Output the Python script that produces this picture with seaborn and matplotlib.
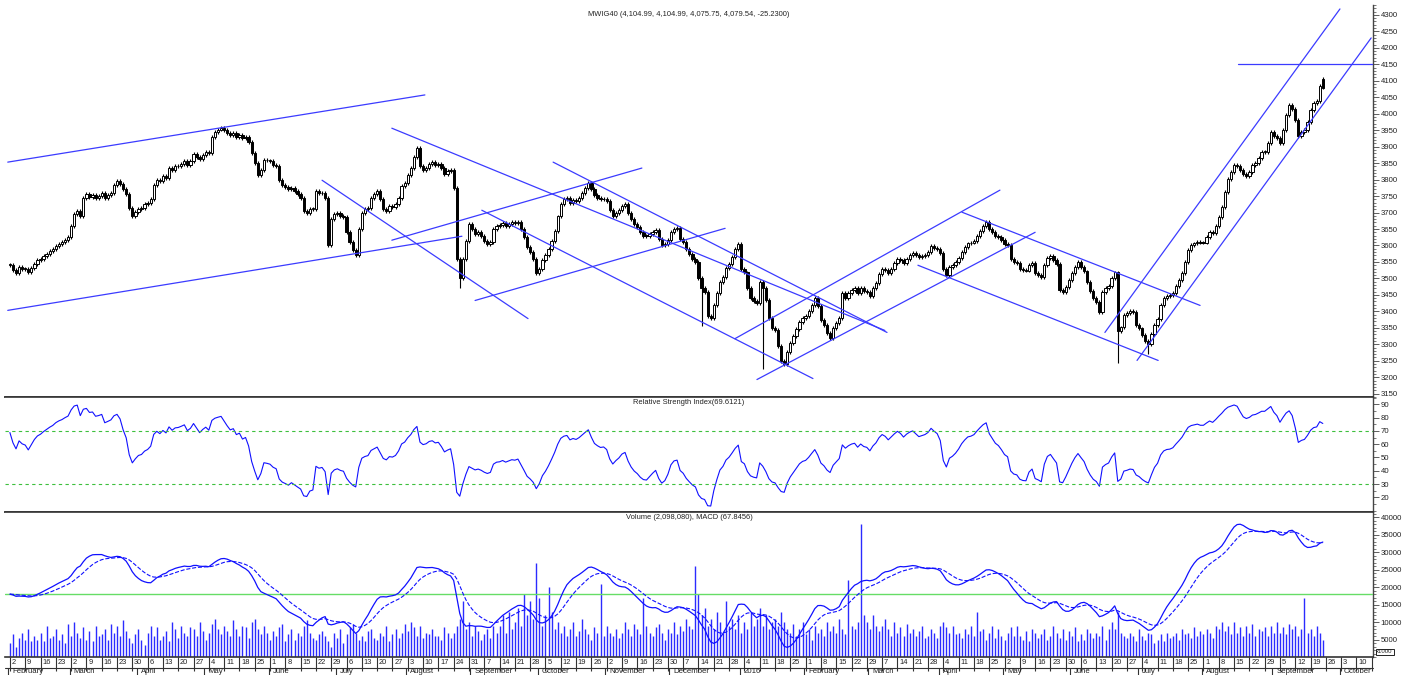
import numpy as np
import pandas as pd
import seaborn as sns
import matplotlib.pyplot as plt
import matplotlib.transforms as mtransforms
from matplotlib.ticker import MultipleLocator

sns.set_theme(style="white")
plt.rcParams['font.family'] = ['Liberation Sans', 'DejaVu Sans']

# daily closes of the index, one row per week (Mon..Fri), Feb 2015 - Sep 2016
closes = [
    3540, 3525, 3515, 3535, 3530,
    3528, 3520, 3532, 3545, 3555,
    3560, 3568, 3575, 3582, 3588,
    3598, 3605, 3610, 3618, 3625,
    3660, 3695, 3705, 3690, 3745,
    3755, 3748, 3752, 3745, 3750,
    3758, 3745, 3752, 3760, 3785,
    3795, 3788, 3770, 3755, 3715,
    3690, 3702, 3712, 3715, 3725,
    3730, 3740, 3785, 3800, 3795,
    3810, 3805, 3835, 3828, 3840,
    3842, 3848, 3855, 3845, 3855,
    3878, 3870, 3862, 3875, 3885,
    3880, 3930, 3945, 3952, 3958,
    3950, 3942, 3935, 3940, 3930,
    3935, 3925, 3930, 3915, 3880,
    3850, 3815, 3830, 3860, 3858,
    3855, 3845, 3840, 3800, 3785,
    3778, 3770, 3775, 3765, 3755,
    3745, 3705, 3700, 3710, 3712,
    3765, 3758, 3760, 3745, 3600,
    3680, 3695, 3700, 3690, 3685,
    3640, 3610, 3585, 3570, 3650,
    3700, 3710, 3715, 3745, 3755,
    3765, 3740, 3712, 3705, 3720,
    3718, 3725, 3745, 3780, 3790,
    3815, 3835, 3870, 3895, 3840,
    3830, 3835, 3848, 3852, 3845,
    3848, 3835, 3818, 3825, 3830,
    3775, 3560, 3500, 3560, 3615,
    3665, 3650, 3635, 3640, 3630,
    3615, 3605, 3610, 3650, 3660,
    3662, 3668, 3660, 3665, 3670,
    3668, 3672, 3650, 3625, 3595,
    3580, 3560, 3515, 3530, 3555,
    3570, 3590, 3615, 3645, 3688,
    3725, 3740, 3745, 3730, 3738,
    3735, 3745, 3760, 3775, 3790,
    3770, 3752, 3745, 3740, 3742,
    3735, 3707, 3690, 3700, 3708,
    3720, 3725, 3700, 3680, 3665,
    3655, 3640, 3630, 3628, 3635,
    3642, 3648, 3620, 3600, 3605,
    3618, 3640, 3650, 3652, 3620,
    3610, 3590, 3575, 3560, 3550,
    3500, 3470, 3460, 3385, 3380,
    3420, 3455, 3490, 3505, 3532,
    3545, 3565, 3588, 3605, 3530,
    3518, 3470, 3440, 3430, 3425,
    3490, 3470, 3435, 3380, 3350,
    3342, 3295, 3250, 3240, 3278,
    3305, 3325, 3345, 3368, 3380,
    3385, 3400, 3420, 3440, 3415,
    3375, 3360, 3335, 3320, 3350,
    3365, 3380, 3455, 3440, 3455,
    3465, 3470, 3455, 3472, 3463,
    3460, 3448, 3470, 3485, 3512,
    3530, 3525, 3515, 3530, 3546,
    3560, 3555, 3546, 3560, 3570,
    3576, 3570, 3564, 3568, 3572,
    3580, 3597, 3592, 3588, 3576,
    3530, 3510, 3534, 3540, 3549,
    3562, 3580, 3594, 3606, 3609,
    3615, 3630, 3645, 3660, 3670,
    3650, 3640, 3630, 3625, 3616,
    3605, 3600, 3560, 3549, 3546,
    3530, 3525, 3524, 3540, 3546,
    3515, 3510, 3503, 3540, 3561,
    3567, 3555, 3543, 3465, 3460,
    3475, 3494, 3515, 3534, 3549,
    3535, 3521, 3490, 3463, 3440,
    3427, 3397, 3460, 3470, 3476,
    3500, 3518, 3340, 3351, 3390,
    3394, 3400, 3397, 3360, 3348,
    3327, 3311, 3300, 3330, 3360,
    3378, 3418, 3440, 3448, 3450,
    3457, 3476, 3494, 3515, 3549,
    3585, 3600, 3606, 3612, 3609,
    3609, 3625, 3640, 3637, 3658,
    3686, 3716, 3761, 3801, 3822,
    3844, 3841, 3828, 3816, 3812,
    3822, 3844, 3850, 3865, 3883,
    3883, 3911, 3944, 3932, 3925,
    3911, 3950, 3996, 4026, 4014,
    3981, 3932, 3944, 3950, 3975,
    4011, 4032, 4038, 4085, 4079.54,
]
last_open = 4104.99

# long lower shadows
wick_idx = [147, 226, 246, 362, 372]
wick_low = [3470, 3355, 3225, 3244, 3270]

# daily volume (x1000)
volumes = [
    4000, 6500, 3000, 5500, 7000,
    5000, 8000, 4500, 6000, 5000,
    7000, 4500, 9000, 5500, 6000,
    8000, 5000, 6500, 4000, 9500,
    6000, 10000, 7000, 5500, 8500,
    5000, 7500, 4500, 9000, 6000,
    6500, 8000, 5000, 9500, 7000,
    9000, 6000, 10500, 7500, 5500,
    4000, 6500, 8000, 5000, 3500,
    7000, 9000, 6000, 8500, 5000,
    6000, 7500, 4500, 10000, 8000,
    5500, 9000, 7000, 6000, 8500,
    8000, 6000, 10000, 7500, 5000,
    7000, 9500, 11000, 8000, 6500,
    9000, 7500, 6000, 10500, 8000,
    6000, 9000, 8500, 5500, 10000,
    11000, 8000, 6500, 9000, 7000,
    5000, 7500, 6000, 8500, 9500,
    4500, 6500, 8000, 5000, 7000,
    6000, 9000, 10500, 7000, 5500,
    5000, 6500, 7500, 6000, 4500,
    3000, 7000, 5500, 8000, 4000,
    6500, 8500, 9500, 7000, 5000,
    6000, 4500, 7500, 8000, 5500,
    5000, 7000, 6000, 9000, 4500,
    6500, 8000, 5500, 7000, 9500,
    7500, 10000, 8500, 6000, 9000,
    5500, 7000, 6500, 8000, 6000,
    6000, 5000, 8500, 7000, 5500,
    7000, 9000, 11000, 16000, 8000,
    10000, 6000, 9000, 7500, 5000,
    6500, 8000, 5500, 9000, 7000,
    9000, 12000, 7000, 13000, 8000,
    10000, 14000, 9000, 18000, 12000,
    16000, 11000, 27000, 17000, 9000,
    12000, 20000, 13000, 8000, 10000,
    7000, 9000, 6000, 8000, 10000,
    6000, 7500, 11000, 8000, 6500,
    5000, 8500, 7000, 21000, 6000,
    9000, 7000, 6000, 8000, 5500,
    7000, 10000, 8000, 6000, 9500,
    8000, 6500, 17000, 9000, 7000,
    6000, 8500, 9500, 7000, 5000,
    8000, 7000, 10000, 6500, 9000,
    7500, 11000, 9000, 8000, 26000,
    18000, 12000, 14000, 9000, 11000,
    8000, 13000, 10000, 7000, 16000,
    9000, 11000, 8000, 12000, 7000,
    10000, 8000, 13000, 9000, 11000,
    14000, 9000, 12000, 8000, 10000,
    11000, 9000, 13000, 10000, 8000,
    7000, 9500, 6000, 8000, 10000,
    6500, 8000, 5000, 9000, 7000,
    8000, 6000, 10000, 7500, 9000,
    7000, 11000, 8000, 6500, 22000,
    9000, 8000, 10000, 38000, 12000,
    10000, 8000, 12000, 9000, 7500,
    9000, 11000, 8000, 6000, 10000,
    7000, 8500, 6000, 9500, 7000,
    8000, 6000, 7500, 9000, 5500,
    6000, 8000, 7000, 5500, 9000,
    10000, 8500, 7000, 9000, 6500,
    7000, 5500, 8000, 6500, 9000,
    6000, 13000, 7500, 8000, 5000,
    7000, 9000, 5500, 8000, 6000,
    5000, 7000, 8500, 6000, 9000,
    6000, 5000, 7500, 4500, 8000,
    7000, 5500, 6500, 8000, 5000,
    6000, 9000, 7000, 5500, 8000,
    5000, 7500, 6000, 8500, 4500,
    6500, 5000, 8000, 7000, 5500,
    7000, 6000, 9000, 5000, 8000,
    10000, 8000, 13000, 7000, 6000,
    5500, 7000, 6000, 4500, 8000,
    6000, 5000, 7000, 6500, 4000,
    5000, 6500, 4500, 7000, 5500,
    6000, 7000, 5000, 8000, 6500,
    7000, 5500, 8500, 6000, 7500,
    6500, 8000, 7000, 5500, 9000,
    8000, 10000, 7500, 9000, 6500,
    10000, 7000, 8500, 6000, 9000,
    7000, 9500, 6000, 8000, 7500,
    8500, 6000, 9000, 7000, 10000,
    7000, 8500, 6500, 9500, 8000,
    9000, 6000, 8000, 17000, 7000,
    8000, 6000, 9000, 7000, 5000,
]

# trend lines drawn on the price panel: (day index, price) -> (day index, price)
tl_i0 = [-0.7, -0.7, 102.0, 124.8, 124.8, 152.0, 177.5, 154.2, 236.9, 244.1, 311.1, 296.7, 357.8, 368.3, 401.3]
tl_p0 = [3853, 3403, 3798, 3956, 3616, 3433, 3853, 3707, 3317, 3193, 3701, 3540, 3336, 3251, 4150]
tl_i1 = [135.6, 147.7, 169.3, 285.9, 206.5, 233.7, 286.6, 262.4, 323.5, 335.0, 388.9, 375.2, 434.6, 444.8, 446.0]
tl_p1 = [4057, 3628, 3378, 3342, 3835, 3652, 3336, 3196, 3768, 3640, 3418, 3251, 4318, 4230, 4150]

title_price = 'MWIG40 (4,104.99, 4,104.99, 4,075.75, 4,079.54, -25.2300)'
title_rsi = 'Relative Strength Index(69.6121)'
title_vol = 'Volume (2,098,080), MACD (67.8456)'

# ---------------------------------------------------------------
dates = pd.bdate_range('2015-02-02', periods=446)
close = np.array(closes, dtype=float)
n = len(close)
idx = np.arange(n)
open_ = np.r_[close[0], close[:-1]]
open_[-1] = last_open
body_lo = np.minimum(open_, close)
body_hi = np.maximum(open_, close)
low = body_lo - 6
high = body_hi + 6
low[wick_idx] = wick_low
up = close >= open_
height = np.maximum(body_hi - body_lo, 2.5)

# RSI(14), Wilder smoothing seeded with the mean of the first 14 moves
delta = np.diff(close, prepend=close[0])
g = np.clip(delta, 0, None)
l = np.clip(-delta, 0, None)
ag, al = g[1:15].mean(), l[1:15].mean()
rsi = np.empty(n)
for i in range(n):
    if i > 0:
        ag = (ag * 13 + g[i]) / 14
        al = (al * 13 + l[i]) / 14
    rsi[i] = 100 - 100 / (1 + ag / al)

ema12 = pd.Series(close).ewm(span=12, adjust=False).mean()
ema26 = pd.Series(close).ewm(span=26, adjust=False).mean()
macd = (ema12 - ema26).to_numpy()
signal = pd.Series(macd).ewm(span=9, adjust=False).mean().to_numpy()

W, H = 1402, 675
def box(l, t, r, b):
    return [l / W, 1 - b / H, (r - l) / W, (b - t) / H]

fig = plt.figure(figsize=(14.02, 6.75), dpi=100)
fig.patch.set_facecolor('white')
ax_p = fig.add_axes(box(5, 5, 1373, 397))
ax_r = fig.add_axes(box(5, 397, 1373, 512), sharex=ax_p)
ax_v = fig.add_axes(box(5, 512, 1373, 657), sharex=ax_p)

blue = '#2b2bff'
axis_col = '#444444'
txt_col = '#222222'

# price panel
ax_p.vlines(idx, low, high, color='black', lw=0.8, zorder=2)
ax_p.bar(idx[up], height[up], bottom=body_lo[up], width=0.75, color='white',
         edgecolor='black', linewidth=0.7, zorder=3)
ax_p.bar(idx[~up], height[~up], bottom=body_lo[~up], width=0.75, color='black',
         edgecolor='black', linewidth=0.7, zorder=3)
for a0, p0, a1, p1 in zip(tl_i0, tl_p0, tl_i1, tl_p1):
    ax_p.plot([a0, a1], [p0, p1], color='#3b3bff', lw=0.9, zorder=4)
ax_p.set_ylim(3140, 4330)
ax_p.yaxis.set_major_locator(MultipleLocator(50))
ax_p.yaxis.set_minor_locator(MultipleLocator(10))
ax_p.text(0.5, 0.977, title_price, transform=ax_p.transAxes, ha='center', va='center',
          fontsize=5.4, color=txt_col)

# RSI panel
sns.lineplot(x=idx, y=rsi, ax=ax_r, color='#1010ff', lw=0.8)
for lvl in (70, 30):
    ax_r.axhline(lvl, color='#3ec03e', lw=0.8, dashes=(3, 3))
ax_r.set_ylim(9, 95.5)
ax_r.yaxis.set_minor_locator(MultipleLocator(5))
ax_r.set_yticks(range(20, 100, 10))
ax_r.text(0.5, 0.95, title_rsi, transform=ax_r.transAxes, ha='center', va='center',
          fontsize=5.4, color=txt_col)

# volume + MACD panel
ax_v.vlines(idx, 0, volumes, color=blue, lw=1.0)
ax_v.set_ylim(0, 41500)
ax_v.yaxis.set_minor_locator(MultipleLocator(1000))
ax_v.set_yticks(range(5000, 45000, 5000))
ax_m = ax_v.twinx()
k = 20000 / np.nanmax(macd)
ax_m.set_ylim(-18000 / k, (41500 - 18000) / k)
ax_m.axhline(0, color='#66dd66', lw=1.0)
sns.lineplot(x=idx, y=macd, ax=ax_m, color='#1010ff', lw=0.9)
sns.lineplot(x=idx, y=signal, ax=ax_m, color='#1010ff', lw=0.8, linestyle='--')
ax_m.set_yticks([])
ax_m.set_ylabel('')
for s in ax_m.spines.values():
    s.set_visible(False)
ax_v.text(0.5, 0.96, title_vol, transform=ax_v.transAxes, ha='center', va='center',
          fontsize=5.4, color=txt_col)
ax_v.text(1.0025, 0.035, 'x1000', transform=ax_v.transAxes, ha='left', va='center',
          fontsize=4.3, color=txt_col,
          bbox=dict(boxstyle='square,pad=0.15', fc='white', ec='black', lw=0.6))

# common styling
for ax in (ax_p, ax_r, ax_v):
    ax.set_xlim(-1.6, 445.4)
    ax.set_ylabel('')
    ax.yaxis.tick_right()
    ax.tick_params(axis='y', which='major', right=True, left=False, length=4, width=0.6,
                   direction='out', labelsize=5.6, pad=1.5, colors=axis_col,
                   labelcolor=txt_col, labelright=True, labelleft=False)
    ax.tick_params(axis='y', which='minor', right=True, left=False, length=2, width=0.5,
                   direction='out', colors=axis_col)
    ax.spines['left'].set_visible(False)
    ax.spines['right'].set_color(axis_col)
    ax.spines['right'].set_linewidth(1.0)
    for side in ('top', 'bottom'):
        ax.spines[side].set_color('#333333')
        ax.spines[side].set_linewidth(1.2)
ax_p.spines['top'].set_visible(False)
for ax in (ax_p, ax_r):
    ax.tick_params(axis='x', which='both', bottom=False, labelbottom=False)

# date axis under the volume panel
week_pos = [i for i in range(len(dates)) if dates[i].weekday() == 0]
ax_v.set_xticks(week_pos)
ax_v.tick_params(axis='x', which='major', bottom=True, length=10, width=0.8,
                 direction='out', colors='#333333', labelbottom=False)
trans = mtransforms.blended_transform_factory(ax_v.transData, ax_v.transAxes)
px = 1 / 145
for i in week_pos:
    if i > 440:
        continue
    ax_v.text(i + 0.6, -5 * px, str(dates[i].day), transform=trans, ha='left', va='center',
              fontsize=5.4, color=txt_col, clip_on=False)
month_start = [0] + [i for i in range(1, len(dates)) if dates[i].month != dates[i - 1].month]
for i in month_start:
    d = dates[i]
    name = '2016' if (d.month == 1 and d.year == 2016) else d.strftime('%B')
    ax_v.plot([i - 0.5, i - 0.5], [-11 * px, -19 * px], transform=trans, color='#333333',
              lw=0.8, clip_on=False)
    ax_v.text(i + 0.8, -14.5 * px, name, transform=trans, ha='left', va='center',
              fontsize=5.6, color=txt_col, clip_on=False)
ax_v.plot([-1.6, 445.4], [-11 * px, -11 * px], transform=trans, color='#333333', lw=0.8,
          clip_on=False)

fig.savefig('out.png', dpi=100, facecolor='white')
